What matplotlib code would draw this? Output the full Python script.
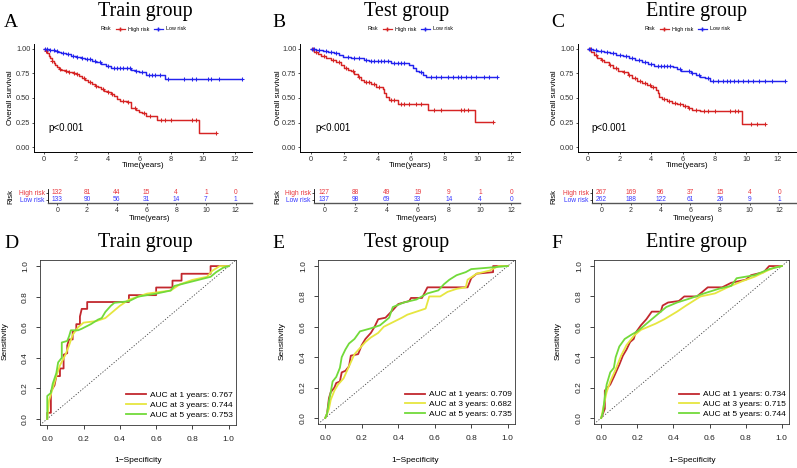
import numpy as np
import matplotlib
matplotlib.use('Agg')
import matplotlib.pyplot as plt
from matplotlib.lines import Line2D

W, H = 797, 468
plt.rcParams['font.family'] = ['Liberation Sans', 'DejaVu Sans']

# ---------------- Kaplan-Meier data ----------------
titles = ["Train group", "Test group", "Entire group"]
letters_top = ["A", "B", "C"]
letters_bot = ["D", "E", "F"]

A_high_t = [0, 0.1, 0.2, 0.3, 0.4, 0.5, 0.6, 0.7, 0.8, 0.95, 1.1, 1.3, 1.5, 1.8, 2.0, 2.2, 2.4, 2.6, 2.8, 3.0,
            3.2, 3.4, 3.6, 3.8, 4.0, 4.2, 4.4, 4.6, 4.8, 5.2, 5.5, 5.8, 6.0, 6.2, 6.4, 7.1, 9.75]
A_high_s = [1.0, 0.98, 0.96, 0.93, 0.91, 0.88, 0.86, 0.84, 0.82, 0.80, 0.79, 0.78, 0.76, 0.75, 0.74, 0.72, 0.70,
            0.68, 0.66, 0.64, 0.62, 0.61, 0.59, 0.57, 0.56, 0.54, 0.52, 0.49, 0.47, 0.46, 0.40, 0.38, 0.36, 0.35,
            0.315, 0.28, 0.14]
A_high_end = 10.85
A_high_cens = [0.1, 0.5, 1.0, 1.4, 1.6, 1.9, 2.1, 2.5, 2.9, 3.3, 3.7, 4.0, 4.3, 5.0, 5.3, 5.7, 6.3, 6.7, 7.4, 7.6,
               8.0, 9.3, 9.6, 10.85]
A_low_t = [0, 0.3, 0.7, 0.9, 1.1, 1.4, 1.7, 2.0, 2.3, 2.6, 3.0, 3.3, 3.6, 3.9, 4.2, 5.5, 5.7, 6.0, 6.4, 7.6]
A_low_s = [1.0, 0.99, 0.98, 0.97, 0.96, 0.95, 0.93, 0.92, 0.91, 0.90, 0.88, 0.87, 0.85, 0.83, 0.805, 0.785, 0.77,
           0.76, 0.73, 0.69]
A_low_end = 12.45
A_low_cens = [0.05, 0.2, 0.4, 0.6, 0.8, 1.2, 1.5, 1.8, 2.1, 2.4, 2.7, 2.9, 3.2, 3.5, 4.0, 4.4, 4.6, 4.8, 5.0,
              5.2, 5.4, 5.8, 6.2, 6.6, 6.8, 7.0, 7.3, 7.8, 8.8, 9.3, 9.6, 10.3, 10.5, 11.0, 12.45]

B_high_t = [0, 0.2, 0.4, 0.6, 0.9, 1.2, 1.5, 1.8, 2.0, 2.2, 2.4, 2.6, 2.8, 3.0, 3.2, 3.6, 3.9, 4.3, 4.4, 4.5,
            4.7, 5.2, 7.0, 9.85]
B_high_s = [1.0, 0.97, 0.95, 0.93, 0.91, 0.89, 0.87, 0.84, 0.81, 0.79, 0.77, 0.74, 0.71, 0.68, 0.66, 0.64, 0.61,
            0.59, 0.55, 0.51, 0.48, 0.435, 0.38, 0.26]
B_high_end = 10.95
B_high_cens = [0.1, 0.3, 0.8, 1.3, 1.7, 2.1, 2.5, 2.9, 3.3, 3.5, 3.8, 4.1, 4.8, 5.0, 5.4, 5.6, 5.9, 6.3, 6.6, 7.4,
               7.8, 9.0, 9.2, 9.4, 10.95]
B_low_t = [0, 0.3, 0.7, 1.0, 1.4, 1.7, 1.9, 2.4, 3.2, 3.5, 4.8, 5.9, 6.1, 6.3, 6.5, 6.7, 6.9]
B_low_s = [1.0, 0.99, 0.98, 0.97, 0.96, 0.94, 0.92, 0.91, 0.89, 0.875, 0.86, 0.84, 0.81, 0.78, 0.76, 0.73, 0.71]
B_low_end = 11.15
B_low_cens = [0.05, 0.2, 0.5, 0.9, 1.2, 1.5, 2.2, 2.6, 2.9, 3.3, 3.6, 3.8, 4.0, 4.2, 4.4, 4.6, 5.0, 5.2, 5.4,
              5.6, 6.6, 7.2, 7.5, 7.8, 8.2, 8.5, 8.8, 9.0, 9.3, 9.6, 9.9, 10.4, 10.7, 11.15]

C_high_t = [0, 0.2, 0.4, 0.6, 0.8, 1.0, 1.3, 1.6, 1.9, 2.2, 2.5, 2.8, 3.1, 3.4, 3.7, 4.0, 4.3, 4.4, 4.5, 4.7,
            5.0, 5.3, 5.6, 6.0, 6.3, 6.6, 7.1, 9.75]
C_high_s = [1.0, 0.97, 0.94, 0.91, 0.89, 0.87, 0.84, 0.81, 0.78, 0.76, 0.73, 0.70, 0.67, 0.65, 0.63, 0.61, 0.58,
            0.55, 0.51, 0.49, 0.47, 0.45, 0.44, 0.42, 0.40, 0.38, 0.365, 0.24]
C_high_end = 11.15
C_high_cens = [0.1, 0.5, 0.9, 1.4, 1.8, 2.3, 2.6, 3.0, 3.3, 3.6, 3.9, 4.1, 4.8, 5.1, 5.5, 5.8, 6.1, 6.4, 6.8,
               7.3, 7.6, 8.0, 9.0, 9.3, 9.5, 10.3, 10.7, 11.15]
C_low_t = [0, 0.3, 0.6, 1.0, 1.4, 1.8, 2.2, 2.6, 3.0, 3.4, 3.8, 4.2, 5.4, 5.6, 5.9, 6.2, 6.5, 6.8, 7.1, 7.4, 7.7]
C_low_s = [1.0, 0.99, 0.98, 0.97, 0.96, 0.94, 0.93, 0.91, 0.89, 0.87, 0.85, 0.83, 0.82, 0.80, 0.78, 0.77, 0.75,
           0.73, 0.71, 0.70, 0.675]
C_low_end = 12.45
C_low_cens = [0.05, 0.2, 0.5, 0.8, 1.2, 1.6, 2.0, 2.4, 2.8, 3.2, 3.6, 4.0, 4.4, 4.6, 4.8, 5.0, 5.2, 5.8, 6.4,
              6.6, 7.0, 7.6, 7.9, 8.2, 8.5, 8.8, 9.0, 9.2, 9.5, 9.8, 10.1, 10.4, 10.8, 11.2, 11.6, 12.45]

# risk table
risk_times = [0, 2, 4, 6, 8, 10, 12]
A_high_n = [132, 81, 44, 15, 4, 1, 0]
A_low_n = [133, 90, 56, 31, 14, 7, 1]
B_high_n = [127, 88, 49, 19, 9, 1, 0]
B_low_n = [137, 98, 69, 33, 14, 4, 0]
C_high_n = [267, 169, 96, 37, 15, 4, 0]
C_low_n = [262, 188, 122, 61, 26, 9, 1]

# ---------------- ROC data ----------------
D_fpr1 = [0, 0, 0.02, 0.02, 0.04, 0.05, 0.07, 0.07, 0.09, 0.09, 0.11, 0.11, 0.12, 0.14, 0.14, 0.16, 0.16, 0.18,
          0.18, 0.19, 0.22, 0.22, 0.45, 0.45, 0.6, 0.6, 0.69, 0.69, 0.74, 0.74, 0.9, 0.9, 1.0]
D_tpr1 = [0, 0.04, 0.04, 0.18, 0.22, 0.28, 0.28, 0.33, 0.33, 0.42, 0.43, 0.48, 0.52, 0.52, 0.57, 0.58, 0.62, 0.62,
          0.67, 0.72, 0.72, 0.765, 0.765, 0.81, 0.81, 0.86, 0.86, 0.905, 0.905, 0.95, 0.95, 1.0, 1.0]
D_fpr3 = [0, 0.01, 0.03, 0.05, 0.07, 0.10, 0.12, 0.14, 0.17, 0.20, 0.27, 0.32, 0.36, 0.40, 0.45, 0.55, 0.68, 0.73,
          0.80, 0.88, 0.91, 0.95, 1.0]
D_tpr3 = [0, 0.12, 0.20, 0.28, 0.35, 0.42, 0.48, 0.55, 0.60, 0.63, 0.64, 0.66, 0.70, 0.74, 0.78, 0.82, 0.84, 0.88,
          0.91, 0.93, 0.97, 1.0, 1.0]
D_fpr5 = [0, 0, 0.02, 0.03, 0.05, 0.06, 0.08, 0.08, 0.11, 0.12, 0.13, 0.17, 0.19, 0.24, 0.28, 0.30, 0.32, 0.35,
          0.37, 0.45, 0.50, 0.60, 0.68, 0.70, 0.80, 0.90, 0.93, 0.97, 1.0]
D_tpr5 = [0, 0.15, 0.17, 0.23, 0.30, 0.37, 0.40, 0.50, 0.51, 0.54, 0.58, 0.58, 0.59, 0.62, 0.65, 0.66, 0.70, 0.74,
          0.76, 0.77, 0.80, 0.82, 0.84, 0.87, 0.90, 0.93, 0.96, 0.99, 1.0]

E_fpr1 = [0, 0.01, 0.02, 0.03, 0.05, 0.06, 0.08, 0.09, 0.11, 0.13, 0.14, 0.18, 0.20, 0.22, 0.25, 0.27, 0.29, 0.33,
          0.37, 0.40, 0.46, 0.47, 0.53, 0.56, 0.78, 0.80, 0.83, 0.92, 0.92, 1.0]
E_tpr1 = [0, 0.03, 0.13, 0.17, 0.20, 0.23, 0.24, 0.30, 0.31, 0.34, 0.41, 0.42, 0.48, 0.52, 0.56, 0.60, 0.65, 0.66,
          0.71, 0.75, 0.77, 0.79, 0.79, 0.86, 0.86, 0.92, 0.95, 0.96, 1.0, 1.0]
E_fpr3 = [0, 0.02, 0.03, 0.05, 0.07, 0.10, 0.13, 0.16, 0.19, 0.22, 0.25, 0.29, 0.32, 0.37, 0.42, 0.45, 0.55, 0.57,
          0.63, 0.67, 0.72, 0.77, 0.78, 0.83, 0.90, 0.95, 1.0]
E_tpr3 = [0, 0.06, 0.12, 0.18, 0.22, 0.26, 0.34, 0.42, 0.46, 0.50, 0.53, 0.56, 0.60, 0.63, 0.66, 0.68, 0.72, 0.80,
          0.80, 0.83, 0.85, 0.86, 0.91, 0.95, 0.97, 1.0, 1.0]
E_fpr5 = [0, 0.01, 0.02, 0.03, 0.04, 0.06, 0.08, 0.09, 0.11, 0.13, 0.16, 0.19, 0.25, 0.30, 0.35, 0.37, 0.43, 0.50,
          0.56, 0.62, 0.65, 0.68, 0.72, 0.77, 0.80, 0.90, 1.0]
E_tpr5 = [0, 0.03, 0.11, 0.17, 0.24, 0.27, 0.33, 0.40, 0.45, 0.49, 0.52, 0.57, 0.59, 0.61, 0.66, 0.73, 0.76, 0.78,
          0.82, 0.84, 0.88, 0.91, 0.94, 0.96, 0.98, 0.99, 1.0]

F_fpr1 = [0, 0.02, 0.02, 0.05, 0.07, 0.10, 0.12, 0.14, 0.16, 0.18, 0.19, 0.22, 0.25, 0.28, 0.33, 0.34, 0.37, 0.43,
          0.46, 0.53, 0.59, 0.67, 0.72, 0.80, 0.83, 0.90, 0.93, 1.0]
F_tpr1 = [0, 0.06, 0.18, 0.22, 0.27, 0.35, 0.41, 0.45, 0.50, 0.52, 0.56, 0.61, 0.65, 0.70, 0.70, 0.74, 0.76, 0.77,
          0.80, 0.80, 0.86, 0.86, 0.89, 0.91, 0.94, 0.96, 1.0, 1.0]
F_fpr3 = [0, 0.01, 0.03, 0.05, 0.08, 0.11, 0.14, 0.18, 0.22, 0.30, 0.35, 0.42, 0.47, 0.55, 0.63, 0.70, 0.78, 0.85,
          0.92, 0.96, 1.0]
F_tpr3 = [0, 0.06, 0.17, 0.24, 0.32, 0.41, 0.48, 0.54, 0.58, 0.62, 0.65, 0.70, 0.74, 0.80, 0.82, 0.86, 0.90, 0.93,
          0.97, 0.99, 1.0]
F_fpr5 = [0, 0.01, 0.02, 0.03, 0.05, 0.07, 0.08, 0.10, 0.13, 0.17, 0.20, 0.25, 0.30, 0.36, 0.42, 0.50, 0.57, 0.65,
          0.72, 0.75, 0.85, 0.93, 1.0]
F_tpr5 = [0, 0.04, 0.14, 0.22, 0.30, 0.33, 0.40, 0.47, 0.52, 0.55, 0.57, 0.62, 0.67, 0.73, 0.76, 0.79, 0.82, 0.85,
          0.87, 0.92, 0.94, 0.98, 1.0]

D_auc = [0.767, 0.744, 0.753]
E_auc = [0.709, 0.682, 0.735]
F_auc = [0.734, 0.715, 0.744]
auc_years = [1, 3, 5]

# ---------------- style ----------------
RED = "#D62424"
BLUE = "#2323EE"
RED_TXT = "#E8373D"
BLUE_TXT = "#3838FF"
ROC_COLS = ["#C2282E", "#E6E640", "#72DA3A"]

fig = plt.figure(figsize=(W / 100, H / 100), dpi=100)
fig.patch.set_facecolor('white')


def add_ax(l, t, r, b):
    return fig.add_axes([l / W, 1 - b / H, (r - l) / W, (b - t) / H])


def ftext(x, y, s, **kw):
    return fig.text(x / W, 1 - y / H, s, **kw)


def draw_km(ax, t, s, end, cens, color):
    tt = list(t) + [end]
    ss = list(s) + [s[-1]]
    ax.step(tt, ss, where='post', color=color, lw=1.05)
    idx = np.searchsorted(np.asarray(t), np.asarray(cens), side='right') - 1
    cy = np.asarray(s)[idx]
    ax.plot(cens, cy, '+', color=color, ms=3.4, mew=0.75)


km_specs = [
    dict(box=(34, 44, 252, 152), xlim=(-0.63, 13.1), tab=(48, 189, 252, 203),
         high=(A_high_t, A_high_s, A_high_end, A_high_cens), low=(A_low_t, A_low_s, A_low_end, A_low_cens),
         nh=A_high_n, nl=A_low_n, title_x=145, letter_x=4, lab_x=143, ylab_x=11, tlab_x=150, risk_x=11,
         px=0.25),
    dict(box=(300, 44, 520, 152), xlim=(-0.66, 12.55), tab=(314, 189, 520, 203),
         high=(B_high_t, B_high_s, B_high_end, B_high_cens), low=(B_low_t, B_low_s, B_low_end, B_low_cens),
         nh=B_high_n, nl=B_low_n, title_x=407, letter_x=272, lab_x=410, ylab_x=278, tlab_x=417, risk_x=278,
         px=0.24),
    dict(box=(578, 44, 797, 152), xlim=(-0.63, 13.2), tab=(592, 189, 797, 203),
         high=(C_high_t, C_high_s, C_high_end, C_high_cens), low=(C_low_t, C_low_s, C_low_end, C_low_cens),
         nh=C_high_n, nl=C_low_n, title_x=696, letter_x=551, lab_x=687, ylab_x=554, tlab_x=694, risk_x=554,
         px=0.2),
]

for i, sp in enumerate(km_specs):
    ax = add_ax(*sp['box'])
    draw_km(ax, *sp['high'], RED)
    draw_km(ax, *sp['low'], BLUE)
    ax.set_xlim(*sp['xlim'])
    ax.set_ylim(-0.05, 1.05)
    ax.set_xticks([0, 2, 4, 6, 8, 10, 12])
    ax.set_yticks([0, 0.25, 0.5, 0.75, 1.0])
    ax.set_yticklabels(['0.00', '0.25', '0.50', '0.75', '1.00'])
    for side in ['top', 'right']:
        ax.spines[side].set_visible(False)
    for side in ['left', 'bottom']:
        ax.spines[side].set_linewidth(0.7)
    ax.tick_params(labelsize=5.3, length=1.6, width=0.6, pad=1.0, colors='#333333')
    ax.text(sp['px'], 0.19, 'p<0.001', fontsize=7, va='center', ha='left')
    # titles
    ftext(sp['title_x'], 16, titles[i], family='Liberation Serif', fontsize=14.5, ha='center', va='baseline')
    ftext(sp['letter_x'], 27, letters_top[i], family='Liberation Serif', fontsize=14, ha='left', va='baseline')
    ftext(sp['ylab_x'], 98, 'Overall survival', fontsize=5.8, rotation=90, ha='center', va='center')
    ftext(sp['lab_x'], 165, 'Time(years)', fontsize=5.8, ha='center', va='center')
    # legend
    hs = [Line2D([], [], color='none'),
          Line2D([], [], color=RED, marker='+', ms=3, lw=0.9),
          Line2D([], [], color=BLUE, marker='+', ms=3, lw=0.9)]
    ax.legend(hs, ['Risk', 'High risk', 'Low risk'], ncol=3, frameon=False, fontsize=3.9,
              loc='center', bbox_to_anchor=((sp['lab_x'] - 6) / W, 1 - 29 / H),
              bbox_transform=fig.transFigure, handlelength=1.7, handletextpad=0.5,
              columnspacing=0.9, borderpad=0)

    # risk table
    tx = add_ax(*sp['tab'])
    tx.set_xlim(*sp['xlim'])
    tx.set_ylim(0.57, 2.57)
    for tval, n in zip(risk_times, sp['nh']):
        tx.text(tval, 2, str(n), color=RED_TXT, fontsize=4.8, ha='center', va='center')
    for tval, n in zip(risk_times, sp['nl']):
        tx.text(tval, 1, str(n), color=BLUE_TXT, fontsize=4.8, ha='center', va='center')
    tx.set_xticks(risk_times)
    tx.set_yticks([2, 1])
    tx.set_yticklabels(['High risk', 'Low risk'])
    for lab, c in zip(tx.get_yticklabels(), [RED_TXT, BLUE_TXT]):
        lab.set_color(c)
    for side in ['top', 'right']:
        tx.spines[side].set_visible(False)
    tx.spines['bottom'].set_linewidth(1.0)
    tx.spines['bottom'].set_color('#555555')
    tx.spines['left'].set_linewidth(0.6)
    tx.tick_params(axis='y', labelsize=4.8, length=1.5, width=0.5, pad=0.8)
    tx.tick_params(axis='x', labelsize=5.0, length=1.6, width=0.6, pad=1.0, colors='#333333')
    ftext(sp['risk_x'], 197, 'Risk', fontsize=5.5, rotation=90, ha='center', va='center')
    ftext(sp['tlab_x'], 219, 'Time(years)', fontsize=5.6, ha='center', va='center')

roc_specs = [
    dict(box=(40, 260, 236, 425), curves=[(D_fpr1, D_tpr1), (D_fpr3, D_tpr3), (D_fpr5, D_tpr5)], auc=D_auc,
         title_x=145, letter_x=4, xl=138, yl=5),
    dict(box=(318, 260, 515, 424), curves=[(E_fpr1, E_tpr1), (E_fpr3, E_tpr3), (E_fpr5, E_tpr5)], auc=E_auc,
         title_x=407, letter_x=272, xl=415, yl=282),
    dict(box=(594, 260, 789, 424), curves=[(F_fpr1, F_tpr1), (F_fpr3, F_tpr3), (F_fpr5, F_tpr5)], auc=F_auc,
         title_x=696, letter_x=551, xl=692, yl=558),
]

for i, sp in enumerate(roc_specs):
    ax = add_ax(*sp['box'])
    ax.plot([-0.04, 1.04], [-0.04, 1.04], ls=(0, (1.5, 2)), color='#444444', lw=0.6)
    for (fx, ty), col, yr, a in zip(sp['curves'], ROC_COLS, auc_years, sp['auc']):
        ax.plot(fx, ty, color=col, lw=1.3, label=f'AUC at {yr} years: {a:.3f}')
    ax.set_xlim(-0.04, 1.04)
    ax.set_ylim(-0.04, 1.04)
    ticks = [0, 0.2, 0.4, 0.6, 0.8, 1.0]
    ax.set_xticks(ticks)
    ax.set_yticks(ticks)
    ax.set_xticklabels([f'{v:.1f}' for v in ticks])
    ax.set_yticklabels([f'{v:.1f}' for v in ticks], rotation=90, va='center')
    for s in ax.spines.values():
        s.set_linewidth(0.6)
        s.set_color('#333333')
    ax.tick_params(labelsize=6, length=3, width=0.6, pad=5, colors='#222222')
    ax.legend(loc='lower right', bbox_to_anchor=(0.985, 0.035), frameon=False, fontsize=6,
              handlelength=2.4, handletextpad=0.5, labelspacing=0.25, borderpad=0, borderaxespad=0)
    ftext(sp['title_x'], 247, titles[i], family='Liberation Serif', fontsize=14.5, ha='center', va='baseline')
    ftext(sp['letter_x'], 248, letters_bot[i], family='Liberation Serif', fontsize=14, ha='left', va='baseline')
    ftext(sp['xl'], 460, '1\u2212Specificity', fontsize=6, ha='center', va='center')
    ftext(sp['yl'], 341, 'Sensitivity', fontsize=6, rotation=90, ha='center', va='center')

fig.savefig('out.png', dpi=100, facecolor='white')
